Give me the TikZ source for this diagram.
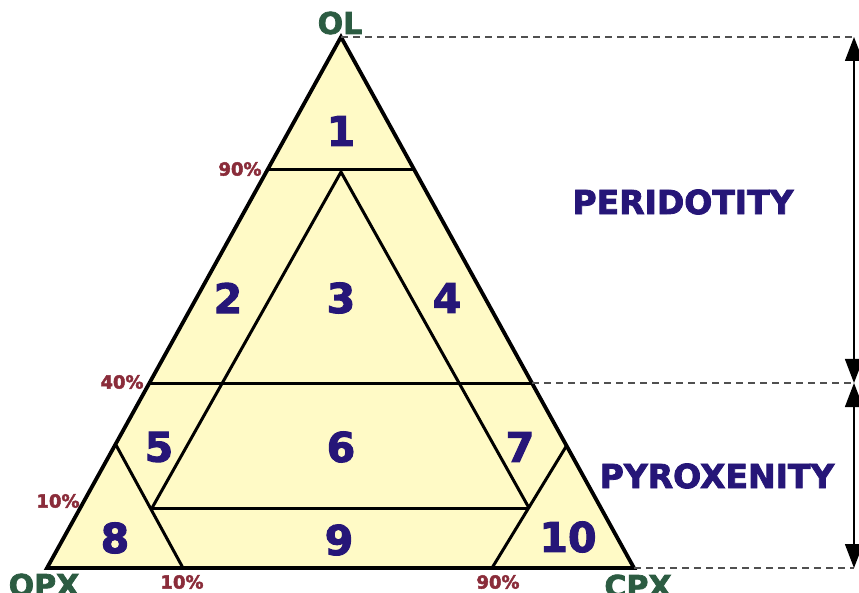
\documentclass[tikz,border=0pt]{standalone}
\usepackage{fontspec}
\setmainfont{DejaVu Sans}
\newfontfamily\heavy[BoldFeatures={FakeBold=2.5}]{DejaVu Sans}
\usetikzlibrary{arrows.meta}
\definecolor{fillY}{RGB}{255,250,198}
\definecolor{numC}{RGB}{38,22,120}
\definecolor{grn}{RGB}{44,92,66}
\definecolor{pct}{RGB}{138,44,58}
\definecolor{dashC}{RGB}{80,80,80}
\begin{document}
\begin{tikzpicture}[x=1pt,y=-1pt,
  outer/.style={line width=3.8pt,line join=miter},
  inner/.style={line width=3pt},
  num/.style={font=\heavy\bfseries\fontsize{41}{41}\selectfont,text=numC,inner sep=0pt},
  pctl/.style={font=\heavy\bfseries\fontsize{18}{18}\selectfont,text=pct,inner sep=0pt},
  corner/.style={font=\heavy\bfseries\fontsize{30}{30}\selectfont,text=grn,inner sep=0pt},
  zone/.style={font=\heavy\bfseries\fontsize{33}{33}\selectfont,text=numC,inner sep=0pt},
  guide/.style={dashC,line width=1.5pt,dash pattern=on 7pt off 5pt},
  spanarrow/.style={line width=1.5pt,{Triangle[length=24pt,width=18pt]}-{Triangle[length=24pt,width=18pt]}}]
\useasboundingbox (0,0) rectangle (859,593);
% vertices
\coordinate (OL) at (341,37);
\coordinate (OPX) at (47,568);
\coordinate (CPX) at (634,568);
% cut points
\coordinate (a90L) at (267.5,170);
\coordinate (a90R) at (414.5,170);
\coordinate (a40L) at (149.5,383);
\coordinate (a40R) at (532,383);
\coordinate (iT) at (341,172);
\coordinate (iL) at (152,508);
\coordinate (iR) at (529,508);
\coordinate (s8T) at (116,445);
\coordinate (s8R) at (183,568);
\coordinate (s10T) at (567,445);
\coordinate (s10L) at (492,568);
\fill[fillY] (OL)--(OPX)--(CPX)--cycle;
\draw[inner] (a90L)--(a90R);
\draw[inner] (a40L)--(a40R);
\draw[inner,line join=miter] (iL)--(iT)--(iR);
\draw[inner] (iL)--(iR);
\draw[inner] (s8T)--(s8R);
\draw[inner] (s10T)--(s10L);
\draw[outer] (OL)--(OPX)--(CPX)--cycle;
% guides
\coordinate (gTop) at (854,37);
\coordinate (gMid) at (854,383);
\coordinate (gBot) at (854,568);
\draw[guide] (OL)--(gTop);
\draw[guide] (a40R)--(gMid);
\draw[guide] (CPX)--(gBot);
\draw[spanarrow] (gMid)--(gTop);
\draw[spanarrow] (gMid)--(gBot);
% numbers
\node[num] (n1) at (341,131) {1};
\node[num] (n2) at (228,298) {2};
\node[num] (n3) at (341,298) {3};
\node[num] (n4) at (447,298) {4};
\node[num] (n5) at (159,447) {5};
\node[num] (n6) at (341,447) {6};
\node[num] (n7) at (520,447) {7};
\node[num] (n8) at (115,538) {8};
\node[num] (n9) at (339,540) {9};
\node[num] (n10) at (568,537) {10};
% corners
\node[corner] (lOL) at (340,23) {OL};
\node[corner] (lOPX) at (44,585) {OPX};
\node[corner] (lCPX) at (638,586) {CPX};
% percentages
\node[pctl] (p90a) at (240,169) {90\%};
\node[pctl] (p40) at (122,382) {40\%};
\node[pctl] (p10a) at (58,501) {10\%};
\node[pctl] (p10b) at (182,582) {10\%};
\node[pctl] (p90b) at (498,582) {90\%};
% zones
\node[zone] (zP) at (683,202) {PERIDOTITY};
\node[zone] (zX) at (717,476) {PYROXENITY};
\end{tikzpicture}
\end{document}
